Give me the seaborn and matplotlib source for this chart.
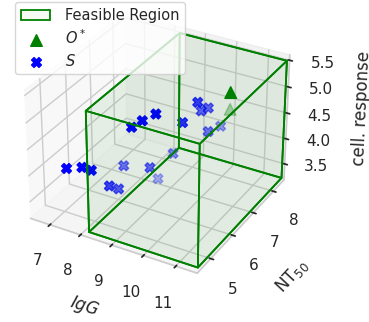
import itertools
import numpy as np
import matplotlib
matplotlib.use("Agg")
import matplotlib.pyplot as plt
import seaborn as sns
from mpl_toolkits.mplot3d.art3d import Poly3DCollection
from matplotlib.patches import Patch

# --- data -------------------------------------------------------------
igg = [7.54, 7.89, 8.13, 8.31, 8.39, 8.19, 8.80, 9.01, 9.28, 8.92,
       8.78, 9.14, 9.73, 9.88, 9.79, 9.94, 10.00, 10.05]
nt50 = [4.49, 4.67, 4.74, 5.23, 5.51, 6.00, 5.55, 5.72, 5.93, 6.16,
        6.71, 6.89, 6.47, 6.93, 7.23, 7.34, 7.26, 7.78]
cell = [4.33, 4.34, 4.30, 3.83, 3.67, 3.88, 4.90, 4.99, 5.08, 3.91,
        3.44, 3.93, 4.79, 5.02, 4.73, 4.77, 4.36, 4.27]

opt_igg = [10.19, 10.07]
opt_nt50 = [8.02, 8.20]
opt_cell = [4.85, 4.44]

region_igg = [8.2, 11.6]
region_nt50 = [4.5, 8.5]
region_cell = [3.23, 5.5]

x_ticks = [7, 8, 9, 10, 11]
y_ticks = [5, 6, 7, 8]
z_ticks = [3.5, 4.0, 4.5, 5.0, 5.5]

# --- style ------------------------------------------------------------
sns.set_theme(style="whitegrid")

fig = plt.figure(figsize=(3.69, 3.22), dpi=100)
ax = fig.add_axes([0.0176, 0.0994, 0.8076, 0.9255], projection="3d")
ax.set_box_aspect((4, 4, 3.10))
ax.view_init(elev=31, azim=-60.5)

# feasible region box
corners = {}
for i, j, k in itertools.product(range(2), repeat=3):
    corners[(i, j, k)] = (region_igg[i], region_nt50[j], region_cell[k])
faces = []
order = [(0, 0), (0, 1), (1, 1), (1, 0)]
for axis in range(3):
    others = [a for a in range(3) if a != axis]
    for side in range(2):
        face = []
        for p, q in order:
            key = [0, 0, 0]
            key[axis] = side
            key[others[0]] = p
            key[others[1]] = q
            face.append(corners[tuple(key)])
        faces.append(face)
box = Poly3DCollection(faces, facecolor=(0.0, 0.5, 0.0, 0.04),
                       edgecolor="green", linewidths=1.3)
ax.add_collection3d(box)

ax.scatter(opt_igg, opt_nt50, opt_cell, marker="^", color="green", s=70,
           label="$O^*$")
ax.scatter(igg, nt50, cell, marker="X", color="blue", s=50, label="$S$")

ax.set_xlim(6.35, 11.65)
ax.set_ylim(4.4, 8.55)
ax.set_zlim(3.18, 5.6)
ax.set_xticks(x_ticks)
ax.set_yticks(y_ticks)
ax.set_zticks(z_ticks)
pad = plt.rcParams["xtick.major.pad"] + 3
for name in ("x", "y", "z"):
    ax.tick_params(axis=name, pad=pad)
ax.set_xlabel("$IgG$")
ax.set_ylabel("NT$_{50}$")
ax.set_zlabel("cell. response")
ax.xaxis.labelpad = 10
ax.yaxis.labelpad = 12
ax.zaxis.labelpad = 13

handles, labels = ax.get_legend_handles_labels()
region_patch = Patch(facecolor=(0.0, 0.5, 0.0, 0.04), edgecolor="green",
                     linewidth=1.3, label="Feasible Region")
ax.legend([region_patch] + handles, ["Feasible Region"] + labels,
          loc="upper left", bbox_to_anchor=(0.041, 0.994),
          bbox_transform=fig.transFigure, borderaxespad=0, fontsize=10.5,
          labelspacing=0.38, handletextpad=1.0)

fig.savefig("out.png", dpi=100)
